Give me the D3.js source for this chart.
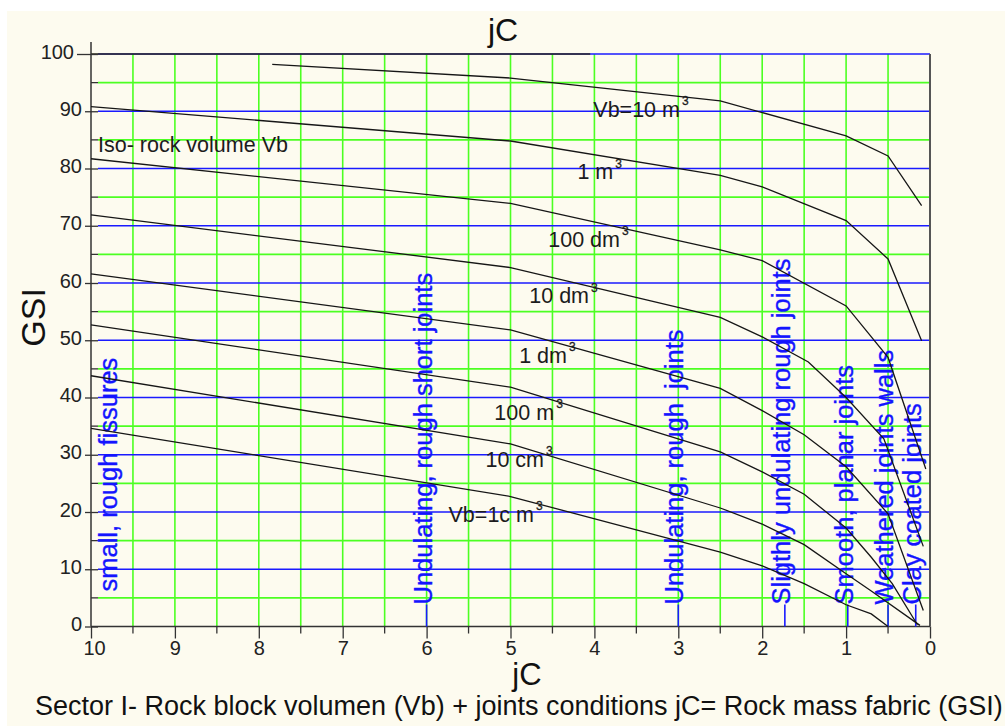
<!DOCTYPE html>
<html>
<head>
<meta charset="utf-8">
<script src="https://cdn.jsdelivr.net/npm/d3@7"></script>
<style>
  html, body { margin: 0; padding: 0; background: #fff; }
  svg { display: block; font-family: "Liberation Sans", Arial, sans-serif; }
</style>
</head>
<body>
<svg id="chart" width="1005" height="726"></svg>
<script>
// ---- axis ticks ----
const jcTicks = [10, 9, 8, 7, 6, 5, 4, 3, 2, 1, 0];
const gsiTicks = [0, 10, 20, 30, 40, 50, 60, 70, 80, 90, 100];

// ---- iso block-volume curves (jC, GSI) ----
const curveNames = ["Vb=10 m", "1 m", "100 dm", "10 dm", "1 dm", "100 m", "10 cm", "Vb=1c m"];
const vb10m3Jc   = [7.84, 5, 2.5, 1, 0.5, 0.1];
const vb10m3Gsi  = [98.2, 95.8, 91.8, 85.7, 82.2, 73.5];
const vb1m3Jc    = [10, 5, 2.5, 2, 1, 0.5, 0.1];
const vb1m3Gsi   = [90.8, 84.8, 78.8, 76.8, 70.9, 64.2, 49.9];
const vb100dm3Jc  = [10, 5, 2.5, 2, 1, 0.5, 0.05];
const vb100dm3Gsi = [81.7, 73.9, 65.8, 63.9, 56.0, 47.0, 27.5];
const vb10dm3Jc  = [10, 5, 2.5, 2, 1.45, 1, 0.55, 0.08];
const vb10dm3Gsi = [71.9, 62.7, 54.0, 50.6, 46.2, 40.0, 32.8, 14.0];
const vb1dm3Jc   = [10, 5, 2.5, 2, 1.5, 1, 0.5, 0.08];
const vb1dm3Gsi  = [61.6, 51.8, 41.6, 37.7, 33.5, 27.9, 19.7, 2.8];
const vb100cm3Jc  = [10, 5, 2.5, 2, 1.5, 1, 0.7, 0.45, 0.15];
const vb100cm3Gsi = [52.7, 41.8, 30.5, 27.0, 23.1, 17.2, 12.1, 7.5, 0.3];
const vb10cm3Jc  = [10, 5, 2.5, 2, 1.5, 1, 0.7, 0.12];
const vb10cm3Gsi = [43.8, 31.9, 20.7, 17.9, 14.3, 9.2, 6.2, 0.2];
const vb1cm3Jc   = [10, 5, 2.5, 2, 1.5, 1, 0.7, 0.5];
const vb1cm3Gsi  = [34.6, 22.7, 13.0, 10.6, 7.5, 3.8, 2.2, 0];

// label anchor (end of the text, on its baseline) for each curve, in jC / GSI units
const curveLabelJc  = [2.98, 3.775, 3.695, 4.064, 4.327, 4.48, 4.6, 4.72];
const curveLabelGsi = [89.05, 78.12, 66.35, 56.47, 46.1, 36.09, 27.83, 18.33];

// ---- joint condition classes along the jC axis ----
const jointNames = ["small, rough fissures", "Undulating, rough short joints", "Undulating, rough  joints",
                    "Sligthly undulating rough joints", "Smooth, planar joints", "Weathered joints walls",
                    "Clay coated joints"];
const jointJc = [9.75, 6, 3, 1.73, 0.98, 0.5, 0.17];
const jointLeader = [false, true, true, true, true, true, true];

// ---- drawing ----
const W = 1005, H = 726;
const svg = d3.select("#chart");

svg.append("rect").attr("width", W).attr("height", H).attr("fill", "#ffffff");
svg.append("rect").attr("x", 7).attr("y", 11).attr("width", W - 7).attr("height", H - 11).attr("fill", "#fdfbef");

const x = d3.scaleLinear().domain([10, 0]).range([91, 930]);
const y = d3.scaleLinear().domain([0, 100]).range([626.5, 54]);

const GREEN = "#4cff22", BLUE = "#1a1aff", INK = "#161616";

// grid: green every 0.5 jC, green at odd fives of GSI, blue at tens of GSI
const grid = svg.append("g");
const halfSteps = d3.range(19, 0, -1).map(v => v / 2);
grid.selectAll("line.v").data(halfSteps).join("line")
  .attr("x1", d => x(d)).attr("x2", d => x(d))
  .attr("y1", y(100)).attr("y2", y(0))
  .attr("stroke", GREEN).attr("stroke-width", 1.6);
const fives = d3.range(5, 100, 10);
grid.selectAll("line.h5").data(fives).join("line")
  .attr("x1", x(10) + 7).attr("x2", x(0))
  .attr("y1", d => y(d)).attr("y2", d => y(d))
  .attr("stroke", GREEN).attr("stroke-width", 1.6);
grid.selectAll("line.h10").data(gsiTicks.filter(d => d > 0)).join("line")
  .attr("x1", x(10) + 7).attr("x2", x(0))
  .attr("y1", d => y(d)).attr("y2", d => y(d))
  .attr("stroke", BLUE).attr("stroke-width", 1.5);

// frame
svg.append("line").attr("x1", x(10)).attr("x2", x(4.05)).attr("y1", y(100)).attr("y2", y(100))
  .attr("stroke", "#2a2a1a").attr("stroke-width", 1.5);
svg.append("line").attr("x1", x(0)).attr("x2", x(0)).attr("y1", y(100)).attr("y2", y(0))
  .attr("stroke", "#555").attr("stroke-width", 2);
svg.append("line").attr("x1", x(10)).attr("x2", x(10)).attr("y1", y(100) - 12).attr("y2", y(0))
  .attr("stroke", "#333").attr("stroke-width", 1.5);
svg.append("line").attr("x1", x(10)).attr("x2", x(0)).attr("y1", y(0)).attr("y2", y(0))
  .attr("stroke", "#333").attr("stroke-width", 1.5);

// GSI axis
const yAxis = svg.append("g").attr("transform", `translate(${x(10)},0)`)
  .call(d3.axisLeft(y).tickValues(gsiTicks).tickSize(6).tickPadding(3).tickFormat(d3.format("d")));
yAxis.select(".domain").remove();
yAxis.selectAll(".tick line").attr("x1", 7).attr("stroke", "#333").attr("stroke-width", 1.3);
yAxis.selectAll(".tick text").attr("font-size", 20).attr("fill", "#222").attr("dy", "0.2em")
  .attr("font-family", "Liberation Sans, Arial, sans-serif");
yAxis.selectAll(".tick").filter(d => d === 100).select("line").attr("x2", -14);
yAxis.selectAll(".tick").filter(d => d === 100).select("text").attr("x", -17);
svg.append("g").selectAll("line").data(fives).join("line")
  .attr("x1", x(10)).attr("x2", x(10) + 7)
  .attr("y1", d => y(d)).attr("y2", d => y(d))
  .attr("stroke", "#333").attr("stroke-width", 1.3);

// jC axis
const xAxis = svg.append("g").attr("transform", `translate(0,${y(0)})`)
  .call(d3.axisBottom(x).tickValues(jcTicks).tickSize(12).tickPadding(2).tickFormat(d3.format("d")));
xAxis.select(".domain").remove();
xAxis.selectAll(".tick line").attr("stroke", "#333").attr("stroke-width", 1.3);
xAxis.selectAll(".tick text").attr("font-size", 20).attr("fill", "#222")
  .attr("font-family", "Liberation Sans, Arial, sans-serif");
xAxis.selectAll(".tick").filter(d => d === 10).select("text").attr("x", 3);
svg.append("g").selectAll("line").data(halfSteps.filter(d => d % 1 !== 0)).join("line")
  .attr("x1", d => x(d)).attr("x2", d => x(d))
  .attr("y1", y(0)).attr("y2", y(0) + 7)
  .attr("stroke", "#333").attr("stroke-width", 1.3);

// joint condition labels (vertical, blue) with leader lines to the axis
const joints = svg.append("g");
jointNames.forEach((name, i) => {
  const xp = x(jointJc[i]);
  const start = jointLeader[i] ? y(0) - 22 : y(0) - 35;
  if (jointLeader[i]) {
    joints.append("line").attr("x1", xp).attr("x2", xp).attr("y1", y(0)).attr("y2", start)
      .attr("stroke", BLUE).attr("stroke-width", 1.6);
  }
  joints.append("text")
    .attr("transform", `translate(${xp + 5},${start}) rotate(-90)`)
    .attr("font-size", 25.5).attr("fill", "#1414ff")
    .attr("stroke", "#1414ff").attr("stroke-width", 0.35)
    .style("white-space", "pre")
    .text(name);
});

// iso block-volume curves
const curveJc  = [vb10m3Jc, vb1m3Jc, vb100dm3Jc, vb10dm3Jc, vb1dm3Jc, vb100cm3Jc, vb10cm3Jc, vb1cm3Jc];
const curveGsi = [vb10m3Gsi, vb1m3Gsi, vb100dm3Gsi, vb10dm3Gsi, vb1dm3Gsi, vb100cm3Gsi, vb10cm3Gsi, vb1cm3Gsi];
const line = d3.line().x(d => x(d[0])).y(d => y(d[1]));
svg.append("g").selectAll("path").data(curveJc.map((jc, i) => jc.map((v, k) => [v, curveGsi[i][k]])))
  .join("path")
  .attr("d", line)
  .attr("fill", "none").attr("stroke", INK).attr("stroke-width", 1.3);

// curve labels with cubic-metre superscript
const labels = svg.append("g").attr("fill", "#1c1c1c");
curveNames.forEach((name, i) => {
  const lx = x(curveLabelJc[i]), ly = y(curveLabelGsi[i]);
  labels.append("text").attr("x", lx).attr("y", ly).attr("text-anchor", "end")
    .attr("font-size", 21.5).text(name);
  labels.append("text").attr("x", lx + 2).attr("y", ly - 11.7)
    .attr("font-size", 12).attr("stroke", "#1c1c1c").attr("stroke-width", 0.3).text("3");
});
labels.append("text").attr("x", x(9.917)).attr("y", y(82.9)).attr("font-size", 21.5).text("Iso- rock volume Vb");

// titles
svg.append("text").attr("x", 503).attr("y", 41).attr("text-anchor", "middle")
  .attr("font-size", 32).attr("fill", "#111").text("jC");
svg.append("text").attr("x", 527).attr("y", 685).attr("text-anchor", "middle")
  .attr("font-size", 31).attr("fill", "#111").text("jC");
svg.append("text").attr("transform", `translate(45,${y(54)}) rotate(-90)`).attr("text-anchor", "middle")
  .attr("font-size", 34).attr("fill", "#111").text("GSI");
svg.append("text").attr("x", 35).attr("y", 715)
  .attr("font-size", 27).attr("fill", "#111")
  .text("Sector I- Rock block volumen (Vb) + joints conditions jC= Rock mass fabric (GSI)");
</script>
</body>
</html>
